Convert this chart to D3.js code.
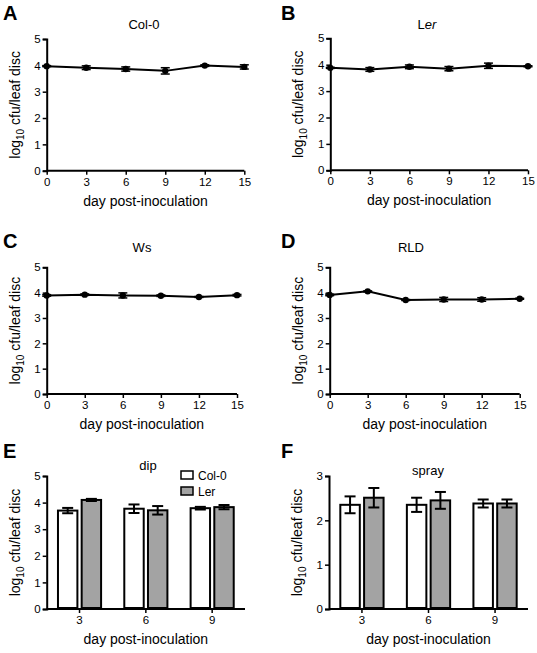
<!DOCTYPE html>
<html><head><meta charset="utf-8">
<script src="https://cdn.jsdelivr.net/npm/d3@7"></script>
<style>body{margin:0;background:#fff}svg{display:block;font-family:"Liberation Sans",Arial,sans-serif}</style>
</head><body><svg id="c" width="537" height="653"></svg>
<script>
const days = [0, 3, 6, 9, 12, 15];
const xTicks = [0, 3, 6, 9, 12, 15];
const yTicksLine = [0, 1, 2, 3, 4, 5];
const col0Mean = [3.97, 3.91, 3.86, 3.79, 3.99, 3.94];
const col0Err  = [0.02, 0.07, 0.08, 0.12, 0.03, 0.08];
const lerMean  = [3.88, 3.82, 3.92, 3.85, 3.96, 3.94];
const lerErr   = [0.02, 0.07, 0.07, 0.08, 0.10, 0.02];
const wsMean   = [3.89, 3.92, 3.89, 3.88, 3.83, 3.90];
const wsErr    = [0.03, 0.03, 0.10, 0.03, 0.02, 0.03];
const rldMean  = [3.91, 4.05, 3.71, 3.73, 3.73, 3.76];
const rldErr   = [0.03, 0.02, 0.02, 0.08, 0.07, 0.02];
const barDays = ["3", "6", "9"];
const barSeries = ["Col-0", "Ler"];
const dipCol0 = [3.70, 3.77, 3.79];
const dipCol0Err = [0.10, 0.16, 0.05];
const dipLer = [4.10, 3.71, 3.83];
const dipLerErr = [0.04, 0.16, 0.08];
const sprayCol0 = [2.35, 2.35, 2.38];
const sprayCol0Err = [0.19, 0.16, 0.09];
const sprayLer = [2.51, 2.45, 2.38];
const sprayLerErr = [0.22, 0.19, 0.09];
const yTicksDip = [0, 1, 2, 3, 4, 5];
const yTicksSpray = [0, 1, 2, 3];

const svg = d3.select("#c");
const FONT = "Liberation Sans, Arial, sans-serif";

function frame(g, x, y, box, ticksX, ticksY, isBand) {
  const xa = isBand ? d3.axisBottom(x).tickSizeOuter(0).tickSize(4).tickPadding(3)
                    : d3.axisBottom(x).tickValues(ticksX).tickSizeOuter(0).tickSize(4).tickPadding(3);
  const gx = g.append("g").attr("transform", `translate(0,${box.b})`).call(xa);
  gx.select(".domain").attr("d", `M${box.l},0H${box.r}`);
  const gy = g.append("g").attr("transform", `translate(${box.l},0)`)
    .call(d3.axisLeft(y).tickValues(ticksY).tickFormat(d3.format("d")).tickSizeOuter(0).tickSize(4).tickPadding(2));
  [gx, gy].forEach(a => {
    a.select(".domain").attr("stroke", "#000").attr("stroke-width", 2);
    a.selectAll(".tick line").attr("stroke", "#000").attr("stroke-width", 1.5);
    a.selectAll(".tick text").attr("font-size", 11.5).attr("font-family", FONT).attr("fill", "#000");
  });
  // x label
  g.append("text").attr("x", (box.l + box.r) / 2).attr("y", box.b + 35)
    .attr("text-anchor", "middle").attr("font-size", 14).attr("font-family", FONT)
    .text("day post-inoculation");
  // y label
  const yl = g.append("text").attr("transform", `translate(${box.l - 27},${(box.t + box.b) / 2}) rotate(-90)`)
    .attr("text-anchor", "middle").attr("font-size", 14).attr("font-family", FONT);
  yl.append("tspan").text("log");
  yl.append("tspan").attr("font-size", 10).attr("dy", 4).text("10");
  yl.append("tspan").attr("dy", -4).text(" cfu/leaf disc");
}

function letter(txt, x, y) {
  svg.append("text").attr("x", x).attr("y", y).attr("font-size", 20).attr("font-weight", "bold")
    .attr("font-family", FONT).text(txt);
}

function linePanel(box, mean, err, title) {
  const g = svg.append("g");
  const x = d3.scaleLinear().domain([0, 15]).range([box.l, box.r]);
  const y = d3.scaleLinear().domain([0, 5]).range([box.b, box.t]);
  frame(g, x, y, box, xTicks, yTicksLine, false);
  const pts = days.map((d, i) => ({ d, m: mean[i], e: err[i] }));
  g.append("path").datum(pts).attr("fill", "none").attr("stroke", "#000").attr("stroke-width", 2)
    .attr("d", d3.line().x(p => x(p.d)).y(p => y(p.m)));
  const eb = g.append("g").attr("stroke", "#000").attr("stroke-width", 1.5);
  pts.forEach(p => {
    eb.append("line").attr("x1", x(p.d)).attr("x2", x(p.d)).attr("y1", y(p.m - p.e)).attr("y2", y(p.m + p.e));
    eb.append("line").attr("x1", x(p.d) - 4.5).attr("x2", x(p.d) + 4.5).attr("y1", y(p.m - p.e)).attr("y2", y(p.m - p.e));
    eb.append("line").attr("x1", x(p.d) - 4.5).attr("x2", x(p.d) + 4.5).attr("y1", y(p.m + p.e)).attr("y2", y(p.m + p.e));
  });
  g.selectAll("circle.pt").data(pts).join("circle").attr("cx", p => x(p.d)).attr("cy", p => y(p.m))
    .attr("r", 3.2).attr("fill", "#000");
  return g;
}

function barPanel(box, vals, errs, yMax, ticksY, title, legend) {
  const g = svg.append("g");
  const x0 = d3.scaleBand().domain(barDays).range([box.l, box.r]).paddingInner(0.35).paddingOuter(0.17);
  const x1 = d3.scaleBand().domain(barSeries).range([0, x0.bandwidth()]).paddingInner(0.18);
  const y = d3.scaleLinear().domain([0, yMax]).range([box.b, box.t]);
  frame(g, x0, y, box, null, ticksY, true);
  const fills = { "Col-0": "#ffffff", "Ler": "#a3a3a3" };
  barDays.forEach((d, i) => {
    barSeries.forEach((s, j) => {
      const v = vals[j][i], e = errs[j][i];
      const bx = x0(d) + x1(s), bw = x1.bandwidth(), cx = bx + bw / 2;
      g.append("rect").attr("x", bx).attr("y", y(v)).attr("width", bw).attr("height", y(0) - y(v) - 1)
        .attr("fill", fills[s]).attr("stroke", "#000").attr("stroke-width", 2);
      g.append("line").attr("x1", cx).attr("x2", cx).attr("y1", y(v - e)).attr("y2", y(v + e))
        .attr("stroke", "#000").attr("stroke-width", 2);
      g.append("line").attr("x1", cx - 5.5).attr("x2", cx + 5.5).attr("y1", y(v + e)).attr("y2", y(v + e))
        .attr("stroke", "#000").attr("stroke-width", 2);
      g.append("line").attr("x1", cx - 5.5).attr("x2", cx + 5.5).attr("y1", y(v - e)).attr("y2", y(v - e))
        .attr("stroke", "#000").attr("stroke-width", 2);
    });
  });
  if (legend) {
    barSeries.forEach((s, j) => {
      g.append("rect").attr("x", 181).attr("y", 471 + j * 16).attr("width", 12).attr("height", 8)
        .attr("fill", fills[s]).attr("stroke", "#000").attr("stroke-width", 1.5);
      g.append("text").attr("x", 198).attr("y", 480 + j * 16).attr("font-size", 12).attr("font-family", FONT).text(s);
    });
  }
  return g;
}

function titleText(txt, x, y) {
  return svg.append("text").attr("x", x).attr("y", y).attr("text-anchor", "middle")
    .attr("font-size", 13).attr("font-family", FONT).text(txt);
}

// Panels
const boxA = { l: 46.7, r: 244.3, t: 39, b: 170.7 };
const boxB = { l: 330.3, r: 528, t: 38.3, b: 170.3 };
const boxC = { l: 46.7, r: 237, t: 267.3, b: 394 };
const boxD = { l: 329.7, r: 519.7, t: 267.3, b: 394 };
const boxE = { l: 46.7, r: 245, t: 476, b: 609 };
const boxF = { l: 329, r: 528, t: 476, b: 609 };

linePanel(boxA, col0Mean, col0Err);
linePanel(boxB, lerMean, lerErr);
linePanel(boxC, wsMean, wsErr);
linePanel(boxD, rldMean, rldErr);
barPanel(boxE, [dipCol0, dipLer], [dipCol0Err, dipLerErr], 5, yTicksDip, "dip", true);
barPanel(boxF, [sprayCol0, sprayLer], [sprayCol0Err, sprayLerErr], 3, yTicksSpray, "spray", false);

titleText("Col-0", 144, 29);
const tb = svg.append("text").attr("x", 427).attr("y", 29).attr("text-anchor", "middle")
  .attr("font-size", 13).attr("font-family", FONT);
tb.append("tspan").text("L");
tb.append("tspan").attr("font-style", "italic").text("er");
titleText("Ws", 142, 252);
titleText("RLD", 411, 252);
titleText("dip", 148, 470);
titleText("spray", 428, 475);

letter("A", 3, 20);
letter("B", 281, 20);
letter("C", 3, 248);
letter("D", 281, 248);
letter("E", 3, 458);
letter("F", 281, 458);
</script></body></html>
